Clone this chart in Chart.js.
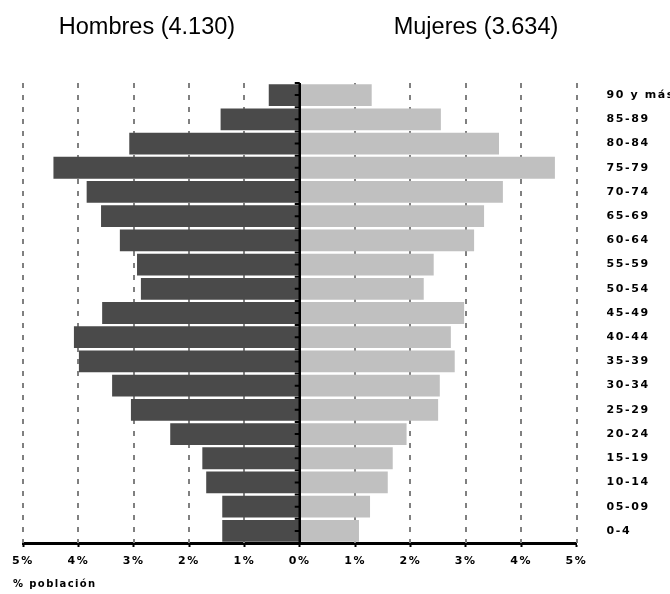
<!DOCTYPE html>
<html><head><meta charset="utf-8">
<script src="https://cdn.jsdelivr.net/npm/chart.js@4.4.1/dist/chart.umd.min.js"></script>
<style>
html,body{margin:0;padding:0;background:#fff;}
#wrap{position:relative;width:670px;height:594px;overflow:hidden;}
canvas{position:absolute;left:0;top:0;}
.t{position:absolute;font-family:"Liberation Sans",Arial,sans-serif;font-size:23.5px;line-height:1;color:#000;white-space:nowrap;text-align:center;}
.xt{position:absolute;left:13px;top:579px;font:bold 10px "DejaVu Sans",sans-serif;letter-spacing:1.4px;color:#000;white-space:nowrap;line-height:1;}
</style></head><body>
<div id="wrap"><canvas id="c" width="670" height="594"></canvas>
<div class="t" style="left:47px;top:15px;width:200px">Hombres (4.130)</div>
<div class="t" style="left:376px;top:15px;width:200px">Mujeres (3.634)</div>
<div class="xt">% población</div></div>
<script>
const ageGroups = ['90 y más','85-89','80-84','75-79','70-74','65-69','60-64','55-59','50-54','45-49','40-44','35-39','30-34','25-29','20-24','15-19','10-14','05-09','0-4'];
const menPct   = [0.56,1.43,3.08,4.45,3.85,3.59,3.25,2.94,2.87,3.57,4.08,3.99,3.39,3.05,2.34,1.76,1.69,1.40,1.40];
const womenPct = [1.30,2.55,3.60,4.61,3.67,3.33,3.15,2.42,2.24,2.97,2.73,2.80,2.53,2.50,1.93,1.68,1.59,1.27,1.07];
const xTickValues = [-5,-4,-3,-2,-1,0,1,2,3,4,5];

const tickFont = {family:'DejaVu Sans', size:11, weight:'bold'};

const spacing = {
  id:'spacing',
  beforeLayout(c){ c.ctx.letterSpacing = '1.6px'; },
  beforeDraw(c){ c.ctx.letterSpacing = '1.6px'; }
};

// dashed vertical grid lines at the x scale ticks (drawn behind the bars)
const dashedGrid = {
  id:'dashedGrid',
  beforeDatasetsDraw(chart){
    const {ctx, chartArea:a, scales:{x}} = chart;
    ctx.save();
    ctx.fillStyle = '#808080';
    x.ticks.forEach(t => {
      if (t.value === 0) return;
      const px = Math.round(x.getPixelForValue(t.value));
      for (let yy = a.top; yy < a.bottom; yy += 12) {
        ctx.fillRect(px - 1, yy, 2, Math.min(5, a.bottom - yy));
      }
    });
    ctx.restore();
  }
};

const centerAxis = {
  id:'centerAxis',
  afterDatasetsDraw(chart){
    const {ctx, chartArea:a, scales:{x, y}} = chart;
    const x0 = x.getPixelForValue(0);
    ctx.save();
    ctx.strokeStyle = '#000';
    ctx.lineWidth = 2.5;
    ctx.beginPath();
    ctx.moveTo(x0, a.top); ctx.lineTo(x0, a.bottom);
    ctx.stroke();
    ctx.lineWidth = 2;
    ctx.beginPath();
    const half = (y.getPixelForValue(1) - y.getPixelForValue(0)) / 2;
    ageGroups.forEach((g, i) => {
      const yc = y.getPixelForValue(i);
      [yc - half, yc].forEach(yy => { ctx.moveTo(x0 - 5, yy); ctx.lineTo(x0, yy); });
    });
    ctx.stroke();
    ctx.restore();
  }
};

new Chart(document.getElementById('c'), {
  type: 'bar',
  data: {
    labels: ageGroups,
    datasets: [
      {label:'Hombres', data: menPct.map(v => -v), backgroundColor:'#4a4a4a', borderWidth:0, barPercentage:0.9, categoryPercentage:1.0},
      {label:'Mujeres', data: womenPct, backgroundColor:'#c0c0c0', borderWidth:0, barPercentage:0.9, categoryPercentage:1.0}
    ]
  },
  options: {
    indexAxis: 'y',
    responsive: false,
    animation: false,
    layout: {padding: {left:23, top:83, right:0, bottom:0}},
    plugins: {legend:{display:false}, tooltip:{enabled:false}},
    scales: {
      x: {
        type:'linear', stacked:true, min:-5, max:5,
        afterBuildTicks(s){ s.ticks = xTickValues.map(v => ({value:v})); },
        afterFit(s){ s.height = 51; },
        grid: {
          drawOnChartArea: false,
          drawTicks: true, tickLength: 4, tickWidth: 2, tickColor:'#000'
        },
        border: {display:true, color:'#000', width:3},
        ticks: {
          font: tickFont, color:'#000', padding:8, maxRotation:0, autoSkip:false,
          callback: v => Math.abs(v) + '%'
        }
      },
      y: {
        type:'category', stacked:true, position:'right',
        afterFit(s){ s.width = 93.5; },
        grid: {display:false, drawTicks:false},
        border: {display:false},
        ticks: {font: tickFont, color:'#000', padding:30, autoSkip:false}
      }
    }
  },
  plugins: [spacing, dashedGrid, centerAxis]
});
</script>
</body></html>
